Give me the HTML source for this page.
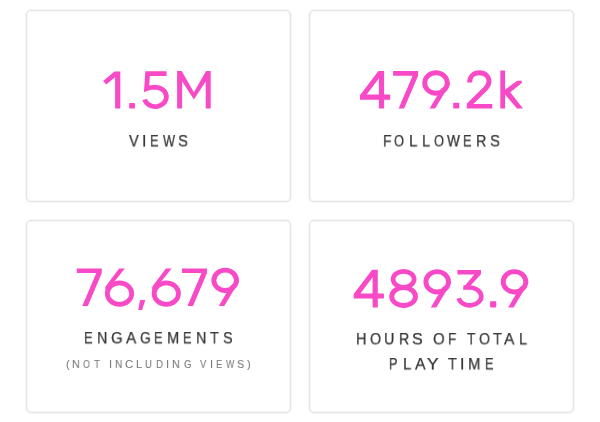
<!DOCTYPE html>
<html><head><meta charset="utf-8">
<style>
html,body{margin:0;padding:0;background:#fff;width:600px;height:422px;overflow:hidden;}
.wrap{position:absolute;left:0;top:0;width:600px;height:422px;}
body{font-family:"Liberation Sans",sans-serif;position:relative;}
.card{position:absolute;box-sizing:border-box;border:1px solid #e4e4e4;border-radius:5px;background:#fff;box-shadow:0 0 0 1px #f6f6f6, inset 0 0 0 1px #f8f8f8;}
.t{position:absolute;white-space:nowrap;line-height:1;will-change:transform;transform-origin:0 0;}
.lbl{color:#333;font-size:16px;-webkit-text-stroke:0.25px #333;}
.sub{color:#7c7c7c;font-size:11px;-webkit-text-stroke:0.1px #7c7c7c;}
.nums{position:absolute;left:0;top:0;}
.numtxt{color:transparent;}
</style></head><body><div class="wrap">
<div class="card" style="left:26px;top:10px;width:265px;height:192px"></div>
<div class="card" style="left:309px;top:10px;width:265px;height:192px"></div>
<div class="card" style="left:26px;top:220px;width:265px;height:193px"></div>
<div class="card" style="left:309px;top:220px;width:265px;height:193px"></div>
<div class="t lbl" style="left:128.57px;top:134.03px;transform:scale(0.911,0.95)">V</div>
<div class="t lbl" style="left:141.76px;top:134.03px;transform:scale(1.000,0.95)">I</div>
<div class="t lbl" style="left:150.10px;top:134.03px;transform:scale(0.801,0.95)">E</div>
<div class="t lbl" style="left:162.86px;top:134.03px;transform:scale(0.800,0.95)">W</div>
<div class="t lbl" style="left:178.40px;top:134.03px;transform:scale(0.926,0.95)">S</div>
<div class="t lbl" style="left:382.72px;top:133.70px;transform:scale(0.868,0.95)">F</div>
<div class="t lbl" style="left:394.37px;top:133.70px;transform:scale(0.800,0.95)">O</div>
<div class="t lbl" style="left:409.32px;top:133.70px;transform:scale(0.950,0.95)">L</div>
<div class="t lbl" style="left:422.37px;top:133.70px;transform:scale(0.908,0.95)">L</div>
<div class="t lbl" style="left:434.02px;top:133.70px;transform:scale(0.800,0.95)">O</div>
<div class="t lbl" style="left:446.57px;top:133.70px;transform:scale(0.852,0.95)">W</div>
<div class="t lbl" style="left:463.41px;top:133.70px;transform:scale(0.800,0.95)">E</div>
<div class="t lbl" style="left:476.49px;top:133.70px;transform:scale(0.889,0.95)">R</div>
<div class="t lbl" style="left:490.20px;top:133.70px;transform:scale(0.926,0.95)">S</div>
<div class="t lbl" style="left:84.49px;top:331.38px;transform:scale(0.812,0.95)">E</div>
<div class="t lbl" style="left:97.34px;top:331.38px;transform:scale(0.891,0.95)">N</div>
<div class="t lbl" style="left:110.94px;top:331.38px;transform:scale(0.937,0.95)">G</div>
<div class="t lbl" style="left:125.95px;top:331.38px;transform:scale(0.957,0.95)">A</div>
<div class="t lbl" style="left:139.81px;top:331.38px;transform:scale(0.859,0.95)">G</div>
<div class="t lbl" style="left:153.86px;top:331.38px;transform:scale(0.800,0.95)">E</div>
<div class="t lbl" style="left:167.07px;top:331.38px;transform:scale(0.911,0.95)">M</div>
<div class="t lbl" style="left:183.21px;top:331.38px;transform:scale(0.800,0.95)">E</div>
<div class="t lbl" style="left:195.88px;top:331.38px;transform:scale(0.897,0.95)">N</div>
<div class="t lbl" style="left:210.24px;top:331.38px;transform:scale(0.891,0.95)">T</div>
<div class="t lbl" style="left:222.73px;top:331.38px;transform:scale(0.893,0.95)">S</div>
<div class="t lbl" style="left:355.57px;top:332.40px;transform:scale(0.908,0.95)">H</div>
<div class="t lbl" style="left:369.92px;top:332.40px;transform:scale(0.888,0.95)">O</div>
<div class="t lbl" style="left:384.15px;top:332.40px;transform:scale(0.893,0.95)">U</div>
<div class="t lbl" style="left:399.11px;top:332.40px;transform:scale(0.878,0.95)">R</div>
<div class="t lbl" style="left:412.12px;top:332.40px;transform:scale(1.004,0.95)">S</div>
<div class="t lbl" style="left:433.27px;top:332.40px;transform:scale(0.934,0.95)">O</div>
<div class="t lbl" style="left:447.65px;top:332.40px;transform:scale(0.842,0.95)">F</div>
<div class="t lbl" style="left:467.15px;top:332.40px;transform:scale(0.852,0.95)">T</div>
<div class="t lbl" style="left:479.02px;top:332.40px;transform:scale(0.878,0.95)">O</div>
<div class="t lbl" style="left:493.03px;top:332.40px;transform:scale(0.907,0.95)">T</div>
<div class="t lbl" style="left:504.44px;top:332.40px;transform:scale(0.967,0.95)">A</div>
<div class="t lbl" style="left:519.17px;top:332.40px;transform:scale(0.908,0.95)">L</div>
<div class="t lbl" style="left:389.06px;top:357.05px;transform:scale(0.800,0.95)">P</div>
<div class="t lbl" style="left:402.53px;top:357.05px;transform:scale(0.936,0.95)">L</div>
<div class="t lbl" style="left:415.04px;top:357.05px;transform:scale(0.986,0.95)">A</div>
<div class="t lbl" style="left:426.88px;top:357.05px;transform:scale(1.091,0.95)">Y</div>
<div class="t lbl" style="left:447.93px;top:357.05px;transform:scale(0.896,0.95)">T</div>
<div class="t lbl" style="left:460.26px;top:357.05px;transform:scale(1.000,0.95)">I</div>
<div class="t lbl" style="left:468.03px;top:357.05px;transform:scale(0.938,0.95)">M</div>
<div class="t lbl" style="left:484.51px;top:357.05px;transform:scale(0.800,0.95)">E</div>
<div class="t sub" style="left:65.57px;top:358.74px">(</div>
<div class="t sub" style="left:72.28px;top:358.74px;transform:scale(0.971,1)">N</div>
<div class="t sub" style="left:83.36px;top:358.74px;transform:scale(0.806,1)">O</div>
<div class="t sub" style="left:93.84px;top:358.74px;transform:scale(0.894,1)">T</div>
<div class="t sub" style="left:108.64px;top:358.74px">I</div>
<div class="t sub" style="left:115.03px;top:358.74px;transform:scale(0.922,1)">N</div>
<div class="t sub" style="left:125.44px;top:358.74px;transform:scale(1.033,1)">C</div>
<div class="t sub" style="left:136.25px;top:358.74px">L</div>
<div class="t sub" style="left:145.37px;top:358.74px;transform:scale(0.870,1)">U</div>
<div class="t sub" style="left:156.35px;top:358.74px;transform:scale(0.890,1)">D</div>
<div class="t sub" style="left:166.49px;top:358.74px">I</div>
<div class="t sub" style="left:172.28px;top:358.74px;transform:scale(0.971,1)">N</div>
<div class="t sub" style="left:183.57px;top:358.74px;transform:scale(0.888,1)">G</div>
<div class="t sub" style="left:199.80px;top:358.74px;transform:scale(0.855,1)">V</div>
<div class="t sub" style="left:209.99px;top:358.74px">I</div>
<div class="t sub" style="left:216.40px;top:358.74px;transform:scale(0.842,1)">E</div>
<div class="t sub" style="left:225.92px;top:358.74px;transform:scale(0.800,1)">W</div>
<div class="t sub" style="left:237.30px;top:358.74px;transform:scale(0.964,1)">S</div>
<div class="t sub" style="left:247.29px;top:358.74px">)</div>
<div class="t numtxt" style="left:99.02px;top:63.44px;font-size:52px;letter-spacing:-0.14px">1.5M</div>
<div class="t numtxt" style="left:358.95px;top:63.37px;font-size:52px;letter-spacing:1.52px">479.2k</div>
<div class="t numtxt" style="left:74.17px;top:261.35px;font-size:52px;letter-spacing:1.34px">76,679</div>
<div class="t numtxt" style="left:353.00px;top:262.16px;font-size:52px;letter-spacing:3.69px">4893.9</div>
<svg class="nums" width="600" height="422" viewBox="0 0 600 422"><path d="M115.10,108.60 L120.30,108.60 L120.30,71.50 L114.50,71.50 L103.10,80.90 L106.25,84.50 L115.10,77.20 Z" fill="#f84ac6" fill-rule="evenodd"/><rect x="129.2" y="102.9" width="5.80" height="5.70" rx="0.8" fill="#f84ac6"/><path d="M166.6,73.6 H147.6 L146.6,88.6 C149.3,87.6 152.3,87.1 155.8,87.1 A11.1,9.8 0 1 1 144.6,99.6" fill="none" stroke="#f84ac6" stroke-width="4.8" stroke-linejoin="miter" stroke-miterlimit="6"/><path d="M177.10,108.60 L177.10,71.10 L181.70,71.10 L193.90,92.30 L206.10,71.10 L210.70,71.10 L210.70,108.60 L205.70,108.60 L205.70,81.40 L193.90,99.60 L182.10,81.40 L182.10,108.60 Z" fill="#f84ac6" fill-rule="evenodd"/><path d="M378.90,108.60 L378.90,99.80 L360.00,99.80 L360.00,95.20 L378.40,70.90 L384.10,70.90 L384.10,94.60 L390.20,94.60 L390.20,99.80 L384.10,99.80 L384.10,108.60 Z M378.90,78.50 L378.90,94.60 L366.70,94.60 Z" fill="#f84ac6" fill-rule="evenodd"/><path d="M393.10,71.10 L418.10,71.10 L418.10,75.80 L404.10,108.60 L398.60,108.60 L412.60,75.80 L393.10,75.80 Z" fill="#f84ac6" fill-rule="evenodd"/><ellipse cx="436" cy="83" rx="11.3" ry="10.2" fill="none" stroke="#f84ac6" stroke-width="4.9"/><path d="M449.70,82.00 L449.70,84.50 L435.10,108.60 L429.60,108.60 L441.50,88.50 Z" fill="#f84ac6" fill-rule="evenodd"/><rect x="453.2" y="102.7" width="6.10" height="5.90" rx="0.8" fill="#f84ac6"/><rect x="466.8" y="103.9" width="25.50" height="4.70" rx="0.6" fill="#f84ac6"/><path d="M469.6,82.6 C469.6,76.5 473.8,72.8 479.3,72.8 C485.2,72.8 489,76.6 489,81.3 C489,84.3 487.6,86.6 485.2,89 L468.4,105.5" fill="none" stroke="#f84ac6" stroke-width="4.9" stroke-linejoin="miter" stroke-miterlimit="6"/><rect x="500.3" y="70.6" width="4.80" height="38.00" rx="0.6" fill="#f84ac6"/><path d="M504.60,89.90 L517.20,80.80 L521.80,80.80 L521.80,83.10 L510.30,92.20 L523.00,108.60 L517.00,108.60 L504.60,94.00 Z" fill="#f84ac6" fill-rule="evenodd"/><g transform="translate(-316.30,197.30)"><path d="M393.10,71.10 L418.10,71.10 L418.10,75.80 L404.10,108.60 L398.60,108.60 L412.60,75.80 L393.10,75.80 Z" fill="#f84ac6" fill-rule="evenodd"/></g><ellipse cx="119.5" cy="293.6" rx="12.2" ry="10.7" fill="none" stroke="#f84ac6" stroke-width="4.8"/><path d="M119.10,268.50 L124.90,268.50 L111.20,285.50 L108.50,289.50 L105.20,289.50 L105.60,286.50 Z" fill="#f84ac6" fill-rule="evenodd"/><path d="M140.00,300.10 L145.30,300.10 L142.10,309.90 L138.30,309.90 Z" fill="#f84ac6" fill-rule="evenodd"/><g transform="translate(46.80,0.00)"><ellipse cx="119.5" cy="293.6" rx="12.2" ry="10.7" fill="none" stroke="#f84ac6" stroke-width="4.8"/><path d="M119.10,268.50 L124.90,268.50 L111.20,285.50 L108.50,289.50 L105.20,289.50 L105.60,286.50 Z" fill="#f84ac6" fill-rule="evenodd"/></g><g transform="translate(-211.10,197.30)"><path d="M393.10,71.10 L418.10,71.10 L418.10,75.80 L404.10,108.60 L398.60,108.60 L412.60,75.80 L393.10,75.80 Z" fill="#f84ac6" fill-rule="evenodd"/></g><g transform="translate(-210.85,197.30)"><ellipse cx="436" cy="83" rx="11.3" ry="10.2" fill="none" stroke="#f84ac6" stroke-width="4.9"/><path d="M449.70,82.00 L449.70,84.50 L435.10,108.60 L429.60,108.60 L441.50,88.50 Z" fill="#f84ac6" fill-rule="evenodd"/></g><g transform="translate(-6.30,198.80)"><path d="M378.90,108.60 L378.90,99.80 L360.00,99.80 L360.00,95.20 L378.40,70.90 L384.10,70.90 L384.10,94.60 L390.20,94.60 L390.20,99.80 L384.10,99.80 L384.10,108.60 Z M378.90,78.50 L378.90,94.60 L366.70,94.60 Z" fill="#f84ac6" fill-rule="evenodd"/></g><ellipse cx="403.6" cy="279.35" rx="10.55" ry="7.95" fill="none" stroke="#f84ac6" stroke-width="4.65"/><ellipse cx="403.6" cy="296.55" rx="11.9" ry="8.9" fill="none" stroke="#f84ac6" stroke-width="4.9"/><g transform="translate(1.20,198.80)"><ellipse cx="436" cy="83" rx="11.3" ry="10.2" fill="none" stroke="#f84ac6" stroke-width="4.9"/><path d="M449.70,82.00 L449.70,84.50 L435.10,108.60 L429.60,108.60 L441.50,88.50 Z" fill="#f84ac6" fill-rule="evenodd"/></g><path d="M457.40,270.00 L481.00,270.00 L481.00,274.20 L470.60,285.40 L468.40,287.60 L463.40,289.85 L463.40,287.60 L474.20,274.60 L457.40,274.60 Z" fill="#f84ac6" fill-rule="evenodd"/><path d="M463.4,287.55 L469.5,287.55 A11.4,8.9 0 1 1 458.7,298.2" fill="none" stroke="#f84ac6" stroke-width="4.6" stroke-linejoin="miter" stroke-miterlimit="6"/><rect x="490.1" y="301.3" width="6.20" height="6.10" rx="0.8" fill="#f84ac6"/><g transform="translate(78.50,198.80)"><ellipse cx="436" cy="83" rx="11.3" ry="10.2" fill="none" stroke="#f84ac6" stroke-width="4.9"/><path d="M449.70,82.00 L449.70,84.50 L435.10,108.60 L429.60,108.60 L441.50,88.50 Z" fill="#f84ac6" fill-rule="evenodd"/></g></svg>
</div></body></html>
